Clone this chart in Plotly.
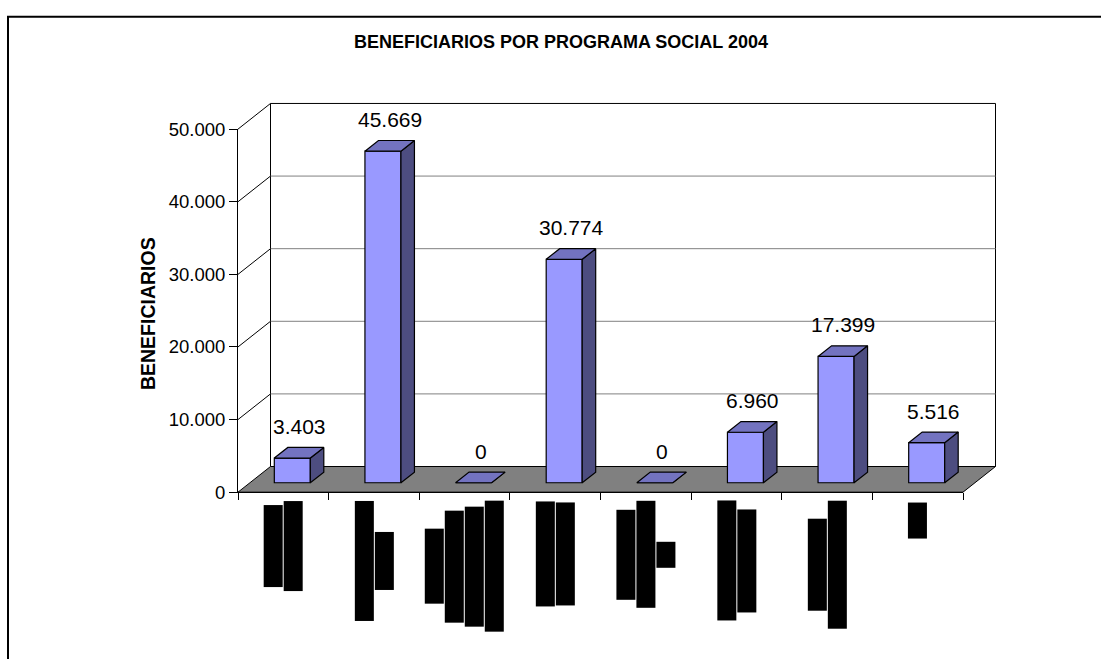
import plotly.graph_objects as go

# ---------------- data ----------------
categorias = ["Programa social 1", "Programa social 2", "Programa social 3", "Programa social 4",
              "Programa social 5", "Programa social 6", "Programa social 7", "Programa social 8"]
lineas_categoria = [
    ["Programa", "social 1"],
    ["Programa", "social 2"],
    ["Programa", "social", "número", "tres"],
    ["Programa", "social 4"],
    ["Programa", "social", "5"],
    ["Programa", "social 6"],
    ["Programa", "social 7"],
    ["P8"],
]
beneficiarios = [3403, 45669, 0, 30774, 0, 6960, 17399, 5516]
ticks_y = [0, 10000, 20000, 30000, 40000, 50000]
titulo = "BENEFICIARIOS POR PROGRAMA SOCIAL 2004"
titulo_y = "BENEFICIARIOS"

# ---------------- style / geometry (pixels) ----------------
W, H = 1101, 659
PX_CAT = 90.625          # px per category
X_LEFT = 238             # px of front-left edge (x = -0.5)
PX_UNIT = 375 / 50000    # px per beneficiary
Y0 = 497                 # px (from top) of front zero line
n = len(categorias)

xa = -0.5 - X_LEFT / PX_CAT
xb = xa + W / PX_CAT
ya = -(H - Y0) / PX_UNIT
yb = ya + H / PX_UNIT

DX = 32.5 / PX_CAT       # wall depth
DY = 26.5 / PX_UNIT
BASE = 9.7 / PX_UNIT     # bar front face raised on floor
BX = 9 / PX_CAT          # bar offset
BW = 36 / PX_CAT         # bar width
BDX = 13.5 / PX_CAT      # bar depth
BDY = 11 / PX_UNIT
LX = 16 / PX_CAT         # label offset
# lengths (px) of the (blacked-out) label lines
largo_lineas = [[82, 90], [120, 58], [75, 112, 120, 131], [105, 103],
                [90, 107, 26], [120, 103], [92, 128], [36]]

FRONT = "#9999FF"
TOP = "#7373C0"
SIDE = "#4D4D80"

fig = go.Figure()

# front faces of bars
fig.add_trace(go.Bar(
    x=[i + BX for i in range(n)], y=beneficiarios, base=BASE, width=BW,
    marker=dict(color=FRONT, line=dict(color="black", width=1.2)),
    hoverinfo="skip", showlegend=False))

# side faces
sx, sy = [], []
for i, v in enumerate(beneficiarios):
    xr = i + BX + BW / 2
    sx += [xr, xr + BDX, xr + BDX, xr, xr, None]
    sy += [BASE, BASE + BDY, BASE + v + BDY, BASE + v, BASE, None]
fig.add_trace(go.Scatter(x=sx, y=sy, mode="lines", fill="toself", fillcolor=SIDE,
                         line=dict(color="black", width=1.2), hoverinfo="skip", showlegend=False))
# top faces
tx, ty = [], []
for i, v in enumerate(beneficiarios):
    xl = i + BX - BW / 2
    xr = i + BX + BW / 2
    tx += [xl, xr, xr + BDX, xl + BDX, xl, None]
    ty += [BASE + v, BASE + v, BASE + v + BDY, BASE + v + BDY, BASE + v, None]
fig.add_trace(go.Scatter(x=tx, y=ty, mode="lines", fill="toself", fillcolor=TOP,
                         line=dict(color="black", width=1.2), hoverinfo="skip", showlegend=False))

# dummy trace for the visible axes
fig.add_trace(go.Scatter(x=[None], y=[None], xaxis="x2", yaxis="y2", showlegend=False, hoverinfo="skip"))

shapes = []
xl0, xr0 = -0.5, n - 0.5
ytop = ticks_y[-1]
# back wall
shapes.append(dict(type="path", xref="x", yref="y", layer="below",
                   path=f"M{xl0+DX},{DY} L{xl0+DX},{ytop+DY} L{xr0+DX},{ytop+DY} L{xr0+DX},{DY} Z",
                   fillcolor="white", line=dict(color="black", width=1)))
# gridlines on back wall
for t in ticks_y[1:-1]:
    shapes.append(dict(type="line", xref="x", yref="y", layer="below",
                       x0=xl0 + DX, y0=t + DY, x1=xr0 + DX, y1=t + DY,
                       line=dict(color="#808080", width=1)))
# side-wall diagonals
for t in ticks_y[1:]:
    shapes.append(dict(type="line", xref="x", yref="y", layer="below",
                       x0=xl0, y0=t, x1=xl0 + DX, y1=t + DY,
                       line=dict(color="black", width=1)))
# floor
shapes.append(dict(type="path", xref="x", yref="y", layer="below",
                   path=f"M{xl0},0 L{xr0},0 L{xr0+DX},{DY} L{xl0+DX},{DY} Z",
                   fillcolor="#808080", line=dict(color="black", width=1)))
# chart frame
shapes.append(dict(type="rect", xref="paper", yref="paper", layer="above",
                   x0=8 / W, x1=1.2, y0=-0.2, y1=1 - 6 / H,
                   line=dict(color="black", width=2), fillcolor="rgba(0,0,0,0)"))

annotations = []
# value labels
for i, v in enumerate(beneficiarios):
    txt = f"{v:,}".replace(",", ".")
    annotations.append(dict(x=i + LX, y=BASE + v, xref="x", yref="y", text=txt,
                            showarrow=False, xanchor="center", yanchor="middle", yshift=31.5,
                            font=dict(family="Liberation Sans, Arial", size=21, color="black")))
# category labels (blacked-out lines, rotated)
for c, (lin, lens) in enumerate(zip(lineas_categoria, largo_lineas)):
    k = len(lin)
    yc = 508 + max(lens) / 2
    for j, (s, L) in enumerate(zip(lin, lens)):
        annotations.append(dict(x=c + (j - (k - 1) / 2) * 20 / PX_CAT, y=1 - yc / H,
                                xref="x", yref="paper", text=s, showarrow=False,
                                textangle=90, width=L, height=19, borderpad=0, borderwidth=0,
                                bgcolor="black", xanchor="center", yanchor="middle",
                                font=dict(family="Liberation Sans, Arial", size=13, color="black")))
# y title
annotations.append(dict(x=148 / W, y=1 - 312 / H, xref="paper", yref="paper", text=f"<b>{titulo_y}</b>",
                        showarrow=False, textangle=-90, xanchor="center", yanchor="middle",
                        font=dict(family="Liberation Sans, Arial", size=19.5, color="black")))

fig.update_layout(
    width=W, height=H, autosize=False,
    margin=dict(l=0, r=0, t=0, b=0, pad=0),
    paper_bgcolor="white", plot_bgcolor="rgba(0,0,0,0)",
    separators=",.",
    title=dict(text=f"<b>{titulo}</b>", x=561 / W, y=1 - 41.5 / H, xanchor="center", yanchor="middle",
               font=dict(family="Liberation Sans, Arial", size=18, color="black")),
    xaxis=dict(range=[xa, xb], visible=False, domain=[0, 1], fixedrange=True),
    yaxis=dict(range=[ya, yb], visible=False, domain=[0, 1], fixedrange=True),
    xaxis2=dict(domain=[X_LEFT / W, (X_LEFT + n * PX_CAT) / W], range=[-0.5, n - 0.5], anchor="y2",
                tickmode="array", tickvals=[i - 0.5 for i in range(n + 1)], ticks="outside",
                ticklen=7, tickcolor="black", showticklabels=False, showgrid=False, zeroline=False,
                showline=True, linecolor="black", linewidth=1, fixedrange=True),
    yaxis2=dict(domain=[(H - Y0) / H, (H - Y0 + 50000 * PX_UNIT) / H], range=[0, 50000], anchor="x2",
                tickmode="array", tickvals=ticks_y, tickformat=",d", ticks="outside", ticklen=8,
                tickcolor="black", showgrid=False, zeroline=False, showline=True, linecolor="black",
                linewidth=1, fixedrange=True,
                tickfont=dict(family="Liberation Sans Narrow, Arial Narrow, Liberation Sans", size=18.5,
                              color="black")),
    shapes=shapes, annotations=annotations, showlegend=False, bargap=0,
)

fig.write_html("out.html", config={"displayModeBar": False, "staticPlot": True},
               post_script="document.body.style.margin='0';document.body.style.overflow='hidden';")
